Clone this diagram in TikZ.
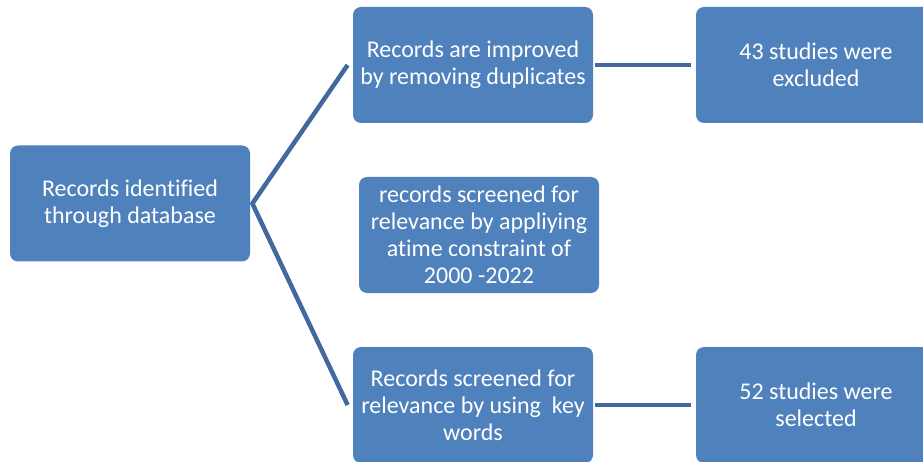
\documentclass[tikz,border=0pt]{standalone}
\usepackage{fontspec}
\setmainfont{Carlito}[Ligatures=NoCommon]
\definecolor{boxblue}{HTML}{4F81BD}
\definecolor{linkblue}{HTML}{41699E}
\tikzset{every picture/.style={line width=0.75pt}}
\tikzset{
  stage/.style={draw=none, fill=boxblue, rounded corners=8pt, text=white, align=center,
    minimum width=240pt, minimum height=116pt, inner sep=0pt,
    font=\fontsize{24}{27}\selectfont},
  link/.style={draw=linkblue, line width=4.5pt, line join=miter},
}

\begin{document}
\begin{tikzpicture}[x=1pt,y=1pt,yscale=-1,xscale=1]
\useasboundingbox (0,0) rectangle (923,462);
\begin{scope}
\clip (0,0) rectangle (923,462);
%Shape: Rounded Rect [id:src]
\node [stage] (src) at (130,203.5) {Records identified\\through database};
%Shape: Rounded Rect [id:dup]
\node [stage] (dup) at (473,65) {Records are improved\\by removing duplicates};
%Shape: Rounded Rect [id:time]
\node [stage] (time) at (479,235) {records screened for\\relevance by appliying\\atime constraint of\\2000 -2022};
%Shape: Rounded Rect [id:key]
\node [stage] (key) at (473,405) {Records screened for\\relevance by using\ \ key\\words};
%Shape: Rounded Rect [id:excl]
\node [stage] (excl) at (816,65) {43 studies were\\excluded};
%Shape: Rounded Rect [id:sel]
\node [stage] (sel) at (816,405) {52 studies were\\selected};

%Straight Lines [id:fork]
\draw [link] ([xshift=-5pt]dup.west) -- ([xshift=2pt]src.east) -- ([xshift=-5pt]key.west) ;
%Straight Lines [id:toexcl]
\draw [link, shorten <=2pt, shorten >=5pt] (dup.east) -- (excl.west) ;
%Straight Lines [id:tosel]
\draw [link, shorten <=2pt, shorten >=5pt] (key.east) -- (sel.west) ;
\end{scope}

\end{tikzpicture}
\end{document}
